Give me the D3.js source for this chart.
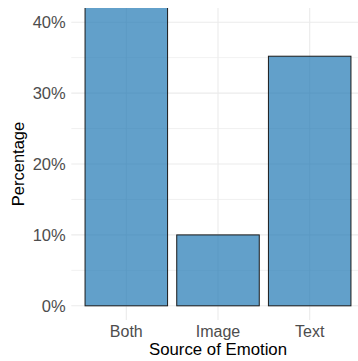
<!DOCTYPE html>
<html>
<head>
<meta charset="utf-8">
<script src="https://cdn.jsdelivr.net/npm/d3@7"></script>
<style>
  html, body { margin: 0; padding: 0; background: #fff; }
  svg { display: block; }
  text { font-family: "Liberation Sans", Arial, Helvetica, sans-serif; }
</style>
</head>
<body>
<svg id="chart" width="358" height="361"></svg>
<script>
const categories = ["Both", "Image", "Text"];
const percentages = [54.8, 10.0, 35.2];
const yMajorTicks = [0, 10, 20, 30, 40];
const yMinorTicks = [5, 15, 25, 35];
const yTickLabels = ["0%", "10%", "20%", "30%", "40%"];
const xTitle = "Source of Emotion";
const yTitle = "Percentage";

const W = 358, H = 361;
const panel = { left: 71.3, right: 364.7, top: 8, bottom: 320 };

const svg = d3.select("#chart");

const x = d3.scaleBand()
  .domain(categories)
  .range([panel.left, panel.right])
  .paddingInner(0.1)
  .paddingOuter(0.15);

const y = d3.scaleLinear()
  .domain([-2, 42])
  .range([panel.bottom, panel.top]);

svg.append("defs").append("clipPath").attr("id", "panelClip")
  .append("rect")
  .attr("x", panel.left).attr("y", panel.top)
  .attr("width", panel.right - panel.left)
  .attr("height", panel.bottom - panel.top);

const grid = svg.append("g");
grid.selectAll("line.minor").data(yMinorTicks).enter().append("line")
  .attr("x1", panel.left).attr("x2", panel.right)
  .attr("y1", d => y(d)).attr("y2", d => y(d))
  .attr("stroke", "#ebebeb").attr("stroke-width", 0.7);
grid.selectAll("line.major").data(yMajorTicks).enter().append("line")
  .attr("x1", panel.left).attr("x2", panel.right)
  .attr("y1", d => y(d)).attr("y2", d => y(d))
  .attr("stroke", "#ebebeb").attr("stroke-width", 1.1);
grid.selectAll("line.vmajor").data(categories).enter().append("line")
  .attr("x1", d => x(d) + x.bandwidth() / 2).attr("x2", d => x(d) + x.bandwidth() / 2)
  .attr("y1", panel.top).attr("y2", panel.bottom)
  .attr("stroke", "#ebebeb").attr("stroke-width", 1.1);

svg.append("g").attr("clip-path", "url(#panelClip)")
  .selectAll("rect").data(categories).enter().append("rect")
  .attr("x", d => x(d))
  .attr("width", x.bandwidth())
  .attr("y", (d, i) => y(percentages[i]))
  .attr("height", (d, i) => y(0) - y(percentages[i]))
  .attr("fill", "rgba(31,119,180,0.7)")
  .attr("stroke", "#1a1a1a")
  .attr("stroke-width", 1);

// y tick labels
svg.append("g").selectAll("text").data(yMajorTicks).enter().append("text")
  .attr("x", 65.7)
  .attr("y", d => y(d))
  .attr("dy", "0.36em")
  .attr("text-anchor", "end")
  .attr("fill", "#4d4d4d")
  .attr("font-size", "16.5px")
  .text((d, i) => yTickLabels[i]);

// x tick labels
svg.append("g").selectAll("text").data(categories).enter().append("text")
  .attr("x", d => x(d) + x.bandwidth() / 2)
  .attr("y", 337)
  .attr("text-anchor", "middle")
  .attr("fill", "#4d4d4d")
  .attr("font-size", "16px")
  .text(d => d);

svg.append("text")
  .attr("x", (panel.left + panel.right) / 2)
  .attr("y", 355)
  .attr("text-anchor", "middle")
  .attr("fill", "#000")
  .attr("font-size", "16.8px")
  .text(xTitle);

svg.append("text")
  .attr("transform", `translate(24,${(panel.top + panel.bottom) / 2}) rotate(-90)`)
  .attr("text-anchor", "middle")
  .attr("fill", "#000")
  .attr("font-size", "16.5px")
  .text(yTitle);
</script>
</body>
</html>
